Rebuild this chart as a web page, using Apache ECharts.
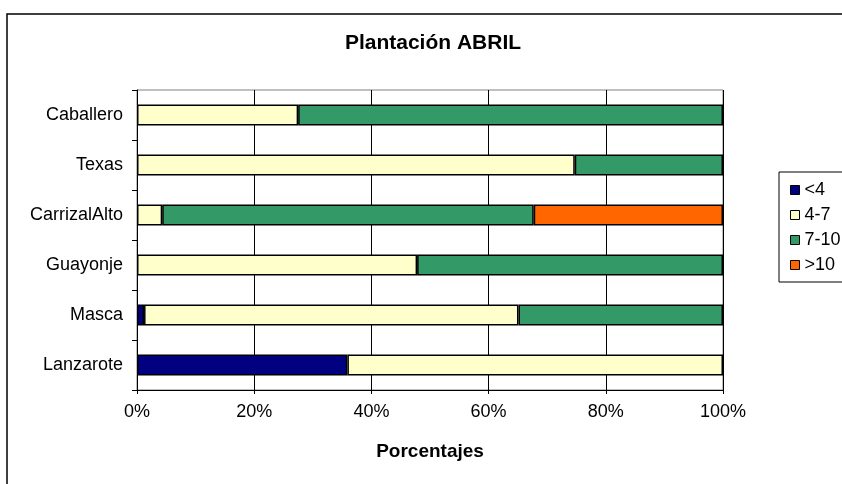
<!DOCTYPE html>
<html>
<head>
<meta charset="utf-8">
<script src="https://cdn.jsdelivr.net/npm/echarts@6/dist/echarts.min.js"></script>
<style>
  html, body { margin: 0; padding: 0; background: #fff; }
  #chart { width: 842px; height: 484px; }
</style>
</head>
<body>
<div id="chart"></div>
<script>
// categorías de abajo hacia arriba
const categories = ['Lanzarote', 'Masca', 'Guayonje', 'CarrizalAlto', 'Texas', 'Caballero']
const seriesNames = ['<4', '4-7', '7-10', '>10']
const menos4 = [35.9, 1.2, 0, 0, 0, 0]
const de4a7 = [64.1, 63.9, 47.8, 4.3, 74.7, 27.5]
const de7a10 = [0, 34.9, 52.2, 63.4, 25.3, 72.5]
const mas10 = [0, 0, 0, 32.3, 0, 0]

const colors = ['#000080', '#FFFFCC', '#339966', '#FF6600']
const valores = [menos4, de4a7, de7a10, mas10]

const chart = echarts.init(document.getElementById('chart'))

const font = 'Liberation Sans, Arial, sans-serif'

const option = {
  animation: false,
  textStyle: { fontFamily: font },
  graphic: [
    {
      // marco exterior del gráfico
      type: 'rect',
      shape: { x: 7, y: 14, width: 900, height: 500 },
      style: { fill: 'none', stroke: '#000', lineWidth: 1.5 },
      z: 0
    },
    {
      // marco de la leyenda
      type: 'rect',
      shape: { x: 779, y: 172, width: 100, height: 110 },
      style: { fill: 'none', stroke: '#000', lineWidth: 1 },
      z: 0
    },
    {
      type: 'text',
      x: 433,
      y: 43,
      style: {
        text: 'Plantación ABRIL',
        fontFamily: font,
        fontSize: 21,
        fontWeight: 'bold',
        fill: '#000',
        align: 'center',
        verticalAlign: 'middle'
      }
    }
  ],
  legend: {
    orient: 'vertical',
    left: 785,
    top: 176,
    itemWidth: 9,
    itemHeight: 9,
    itemGap: 7,
    icon: 'rect',
    data: seriesNames,
    itemStyle: { borderColor: '#000', borderWidth: 1 },
    textStyle: { fontSize: 18, color: '#000', lineHeight: 18, fontFamily: font }
  },
  grid: {
    left: 137,
    right: 119,
    top: 90,
    bottom: 94,
    show: true,
    borderColor: '#808080',
    borderWidth: 1,
    containLabel: false
  },
  xAxis: {
    type: 'value',
    min: 0,
    max: 100,
    interval: 20,
    name: 'Porcentajes',
    nameLocation: 'middle',
    nameGap: 52,
    nameTextStyle: { fontSize: 19, fontWeight: 'bold', color: '#000', fontFamily: font },
    axisLine: { show: true, lineStyle: { color: '#000', width: 1 } },
    axisTick: { show: true, length: 4, lineStyle: { color: '#000' } },
    axisLabel: { formatter: '{value}%', fontSize: 18, color: '#000', margin: 13, fontFamily: font },
    splitLine: { show: true, lineStyle: { color: '#000', width: 1 } }
  },
  yAxis: {
    type: 'category',
    data: categories,
    axisLine: { show: true, lineStyle: { color: '#000', width: 1 } },
    axisTick: { show: true, length: 5, lineStyle: { color: '#000' } },
    axisLabel: { fontSize: 18, color: '#000', margin: 14, fontFamily: font },
    splitLine: { show: false }
  },
  series: seriesNames.map((name, i) => ({
    name: name,
    type: 'bar',
    stack: 'total',
    barWidth: 21,
    data: valores[i].map(v => (v === 0 ? '-' : v)),
    itemStyle: { color: colors[i], borderColor: '#000', borderWidth: 1.5 }
  }))
}

chart.setOption(option)
</script>
</body>
</html>
